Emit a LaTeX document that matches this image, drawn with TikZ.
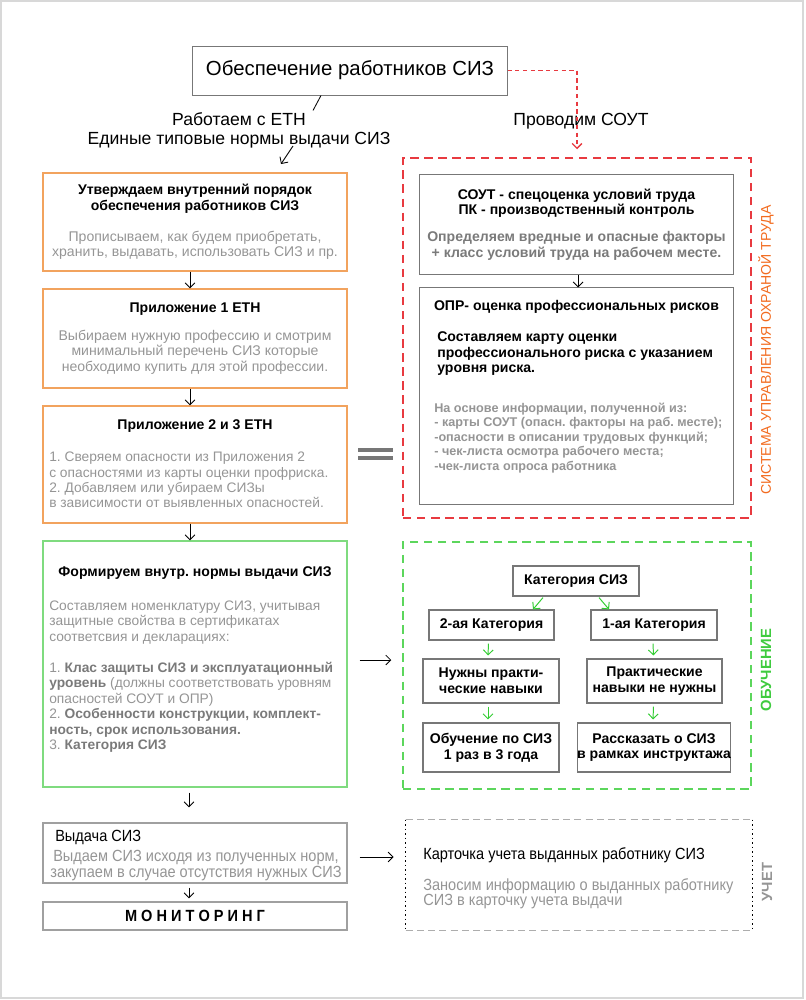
\documentclass[tikz,border=0pt]{standalone}
\usepackage{fontspec}
\setmainfont{Liberation Sans}
\newfontfamily\narrowfont[FakeStretch=0.9]{Liberation Sans}
\usepackage{xcolor}
\usepackage{tikz}
\usetikzlibrary{arrows.meta, positioning, calc}
\frenchspacing

\definecolor{orangeline}{HTML}{F2A35E}
\definecolor{greenline}{HTML}{7FDB7F}
\definecolor{greendash}{HTML}{5CD65C}
\definecolor{arrowgreen}{HTML}{33CC33}
\definecolor{reddash}{HTML}{E83A40}
\definecolor{boxgray}{HTML}{777777}
\definecolor{txtgray}{HTML}{959595}
\definecolor{boldgray}{HTML}{7A7A7A}
\definecolor{labelorange}{HTML}{F26B1F}
\definecolor{labelgreen}{HTML}{3FCB3F}
\definecolor{framegray}{HTML}{D8D8D8}

\newcommand{\gr}[1]{\textcolor{txtgray}{#1}}
\newcommand{\bgr}[1]{\textcolor{boldgray}{\textbf{#1}}}

\begin{document}
\begin{tikzpicture}[x=0.025cm, y=-0.025cm, font=\fontsize{10}{11}\selectfont]
        \tikzstyle{block} = [rectangle, draw=boxgray, line width=0.7pt, inner sep=0pt, align=center]
        \tikzstyle{orangebox} = [block, draw=orangeline, line width=0.9pt, minimum width=7.6cm]
        \tikzstyle{catbox} = [block, line width=0.8pt, font=\fontsize{10}{11.2}\selectfont\bfseries]
        \tikzstyle{frame} = [rectangle, line width=1pt, dash pattern=on 6pt off 4pt, minimum width=8.7cm, inner sep=0pt]
        \tikzstyle{line} = [draw, -{Straight Barb[length=3.5pt,width=7pt]}, line width=0.6pt]
        \tikzstyle{gline} = [line, draw=arrowgreen, line width=0.7pt]
        \tikzstyle{note} = [text=txtgray, align=left, anchor=west, inner sep=0pt]
        \tikzstyle{sidelabel} = [rotate=90, inner sep=0pt]

        \useasboundingbox (0,0) rectangle (805,1000);
        \draw[framegray, line width=1.5pt] (1,1) rectangle (803,998);

        % top
        \node [block, minimum width=7.85cm, minimum height=1.225cm, font=\fontsize{14.5}{16}\selectfont] (title) at (350,70.5) {Обеспечение работников СИЗ};
        \node [align=center, font=\fontsize{12.5}{13.5}\selectfont] (etn) at (239,130) {Работаем с ЕТН\\Единые типовые нормы выдачи СИЗ};
        \node [font=\fontsize{12.5}{13.5}\selectfont] (soutlbl) at (581,121) {Проводим СОУТ};
        \coordinate (etnarrow) at (293,146);

        % left column
        \node [orangebox, minimum height=2.45cm] (approve) at (195,222)
            {\textbf{Утверждаем внутренний порядок}\\\textbf{обеспечения работников СИЗ}\\[11pt]
             \gr{Прописываем, как будем приобретать,}\\\gr{хранить, выдавать, использовать СИЗ и пр.}};
        \node [orangebox, minimum height=2.475cm] (app1) at (195,338.5)
            {\textbf{Приложение 1 ЕТН}\\[9pt]
             \gr{Выбираем нужную профессию и смотрим}\\\gr{минимальный перечень СИЗ которые}\\\gr{необходимо купить для этой профессии.}};
        \node [orangebox, minimum height=2.925cm] (app23) at (195,464.5) {};
        \node [font=\fontsize{10}{11}\selectfont\bfseries] (app23title) at (195,426) {Приложение 2 и 3 ЕТН};
        \node [note, font=\fontsize{9.8}{11}\selectfont] (app23txt) at (49,480) {1. Сверяем опасности из Приложения 2\\с опасностями из карты оценки профриска.\\2. Добавляем или убираем СИЗы\\в зависимости от выявленных опасностей.};

        \node [block, draw=greenline, line width=1pt, minimum width=7.6cm, minimum height=6.15cm] (norms) at (195,664) {};
        \node [font=\fontsize{10}{11}\selectfont\bfseries] (normstitle) at (195,573) {Формируем внутр. нормы выдачи СИЗ};
        \node [note, font=\fontsize{9.8}{11}\selectfont] (normstxt) at (49,676.5) {Составляем номенклатуру СИЗ, учитывая\\
            защитные свойства в сертификатах\\
            соответсвия и декларациях:\\[11pt]
            1. \bgr{Клас защиты СИЗ и эксплуатационный}\\
            \bgr{уровень} (должны соответствовать уровням\\
            опасностей СОУТ и ОПР)\\
            2. \bgr{Особенности конструкции, комплект-}\\
            \bgr{ность, срок использования.}\\
            3. \bgr{Категория СИЗ}};

        \node [block, draw=boxgray!70, line width=1pt, minimum width=7.6cm, minimum height=1.5cm] (vyd) at (195,853) {};
        \node [anchor=west, inner sep=0pt, font=\narrowfont\fontsize{11.5}{12}\selectfont] (vydtitle) at (55,837) {Выдача СИЗ};
        \node [align=center, text=txtgray, font=\narrowfont\fontsize{11.5}{10.7}\selectfont] (vydtxt) at (196,865.5) {Выдаем СИЗ исходя из полученных норм,\\закупаем в случае отсутствия нужных СИЗ};
        \node [block, draw=boxgray!70, line width=1pt, minimum width=7.6cm, minimum height=0.7cm, font=\narrowfont\fontsize{11.5}{12}\selectfont\bfseries] (mon) at (195,916) {М\ О\ Н\ И\ Т\ О\ Р\ И\ Н\ Г};

        % right column
        \node [frame, draw=reddash, minimum height=9cm] (soutframe) at (577,338) {};
        \node [block, minimum width=7.825cm, minimum height=2.475cm] (sout) at (576.5,224.5)
            {\textbf{СОУТ - спецоценка условий труда}\\\textbf{ПК - производственный контроль}\\[8pt]
             \bgr{Определяем вредные и опасные факторы}\\\bgr{+ класс условий труда на рабочем месте.}};
        \node [block, minimum width=7.825cm, minimum height=5.4cm] (opr) at (576.5,396) {};
        \node [font=\fontsize{10}{11}\selectfont\bfseries] (oprtitle) at (576.5,307) {ОПР- оценка профессиональных рисков};
        \node [note, text=black, font=\fontsize{10}{11}\selectfont\bfseries] (oprmap) at (437,354) {Составляем карту оценки\\профессионального риска с указанием\\уровня риска.};
        \node [note, font=\fontsize{9}{10.3}\selectfont\bfseries] (oprsrc) at (434,438) {На основе информации, полученной из:\\- карты СОУТ (опасн. факторы на раб. месте);\\-опасности в описании трудовых функций;\\- чек-листа осмотра рабочего места;\\-чек-листа опроса работника};
        \node [sidelabel, text=labelorange, font=\fontsize{10}{12}\selectfont] (ohs) at (766,350) {СИСТЕМА УПРАВЛЕНИЯ ОХРАНОЙ ТРУДА};

        \node [frame, draw=greendash, minimum height=6.175cm] (eduframe) at (577,665.5) {};
        \node [sidelabel, text=labelgreen, font=\fontsize{10.5}{12}\selectfont\bfseries] (edu) at (766,670) {ОБУЧЕНИЕ};
        \node [catbox, minimum width=3.15cm, minimum height=0.75cm] (cat) at (576,581) {Категория СИЗ};
        \node [catbox, minimum width=3.125cm, minimum height=0.75cm] (cat2) at (491.5,625) {2-ая Категория};
        \node [catbox, minimum width=3.15cm, minimum height=0.75cm] (cat1) at (654,625) {1-ая Категория};
        \node [catbox, minimum width=3.4cm, minimum height=1.1cm] (need) at (491,681) {Нужны практи-\\ческие навыки};
        \node [catbox, minimum width=3.375cm, minimum height=1.1cm] (noneed) at (654.5,681) {Практические\\навыки не нужны};
        \node [catbox, minimum width=3.4cm, minimum height=1.225cm] (train) at (491,747.5) {Обучение по СИЗ\\1 раз в 3 года};
        \node [catbox, minimum width=3.5cm, minimum height=1.225cm] (tell) at (654,747.5) {Рассказать о СИЗ\\в рамках инструктажа};

        \node [minimum width=8.65cm, minimum height=2.75cm, inner sep=0pt] (uchet) at (579,875) {};
        \node [anchor=west, inner sep=0pt, font=\narrowfont\fontsize{11.5}{12}\selectfont] (cardtitle) at (423,855) {Карточка учета выданных работнику СИЗ};
        \node [note, font=\narrowfont\fontsize{11.5}{10.7}\selectfont] (cardtxt) at (423,893.5) {Заносим информацию о выданных работнику\\СИЗ в карточку учета выдачи};
        \node [sidelabel, text=txtgray, font=\fontsize{10.5}{12}\selectfont\bfseries] (uchetlbl) at (767,882) {УЧЕТ};
        \draw [boxgray!60, line width=0.9pt, dash pattern=on 5pt off 3pt] (uchet.north west) -- (uchet.north east);
        \draw [boxgray!60, line width=0.9pt, dash pattern=on 5pt off 3pt] (uchet.south west) -- (uchet.south east);
        \draw [black, line width=1.1pt, dash pattern=on 1.2pt off 2pt] (uchet.north west) -- (uchet.south west);
        \draw [black, line width=1.1pt, dash pattern=on 1.2pt off 2pt] (uchet.north east) -- (uchet.south east);

        % equal sign between ETN and OPR
        \draw [boxgray, line width=2.2pt] (358,450) -- (393,450);
        \draw [boxgray, line width=2.2pt] (358,458) -- (393,458);

        % connectors
        \draw [line width=0.6pt] ($(title.south)+(-29,0)$) -- ++(-8,15);
        \path [line] (etnarrow) -- ++(-12,18);
        \path [draw=reddash, line width=0.9pt, dash pattern=on 3pt off 2.5pt, -{Straight Barb[length=3.5pt,width=7pt]}, shorten >=0.2cm] (title.east) -| (soutframe.north);
        \path [line] ([xshift=-0.125cm]approve.south) -- ([xshift=-0.125cm]app1.north);
        \path [line] ([xshift=-0.125cm]app1.south) -- ([xshift=-0.125cm]app23.north);
        \path [line] ([xshift=-0.125cm]app23.south) -- ([xshift=-0.125cm]norms.north);
        \path [line, shorten <=0.125cm, shorten >=0.375cm] ([xshift=-0.15cm]norms.south) -- ([xshift=-0.15cm]vyd.north);
        \path [line, shorten <=0.1cm, shorten >=0.075cm] ([xshift=-0.15cm]vyd.south) -- ([xshift=-0.15cm]mon.north);
        \path [line] ([xshift=0.04cm]sout.south) -- ([xshift=0.04cm]opr.north);
        \path [line, shorten <=0.3cm, shorten >=0.275cm] ([yshift=0.1cm]norms.east) -- ([yshift=0.1cm]norms.east -| eduframe.west);
        \path [line, shorten <=0.3cm, shorten >=0.3cm] ([yshift=-0.1cm]vyd.east) -- ([yshift=-0.1cm]vyd.east -| uchet.west);

        \path [gline] ($(cat.south)+(-33,1)$) -- ($(cat2.north)+(41.5,0)$);
        \path [gline] ($(cat.south)+(23,1)$) -- ($(cat1.north)+(-45,0)$);
        \path [gline, shorten <=0.075cm, shorten >=0.075cm] ($(cat2.south)+(-3,0)$) -- ($(need.north)+(-3,0)$);
        \path [gline, shorten <=0.075cm, shorten >=0.075cm] ($(cat1.south)+(-1,0)$) -- ($(noneed.north)+(-1,0)$);
        \path [gline, shorten <=0.075cm, shorten >=0.075cm] ($(need.south)+(-3,0)$) -- ($(train.north)+(-3,0)$);
        \path [gline, shorten <=0.075cm, shorten >=0.075cm] ($(noneed.south)+(-1,0)$) -- ($(tell.north)+(-1,0)$);
    \end{tikzpicture}
\end{document}
